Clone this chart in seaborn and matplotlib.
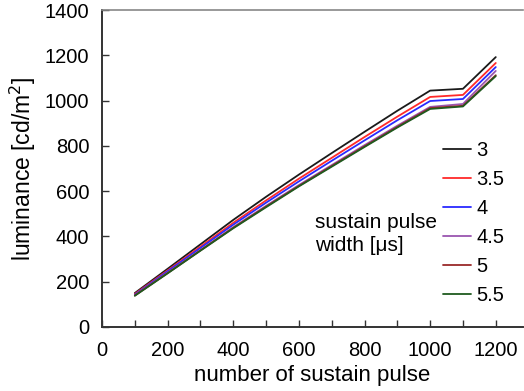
import pandas as pd
import matplotlib.pyplot as plt
import seaborn as sns
from matplotlib.ticker import MultipleLocator

# luminance vs number of sustain pulses, one curve per pulse width
pulses = [100, 200, 300, 400, 500, 600, 700, 800, 900, 1000, 1100, 1200]
widths = ['3', '3.5', '4', '4.5', '5', '5.5']
lum_3 = [150, 257, 365, 473, 575, 673, 768, 862, 955, 1044, 1052, 1192]
lum_35 = [146, 250, 355, 460, 559, 655, 747, 839, 929, 1016, 1025, 1166]
lum_4 = [143, 246, 349, 452, 549, 643, 734, 824, 913, 998, 1007, 1148]
lum_45 = [140, 240, 340, 441, 535, 627, 715, 803, 889, 972, 985, 1131]
lum_5 = [139, 238, 338, 438, 532, 623, 711, 798, 884, 967, 977, 1112]
lum_55 = [138, 237, 337, 436, 529, 621, 708, 795, 881, 963, 974, 1108]

series = [lum_3, lum_35, lum_4, lum_45, lum_5, lum_55]
df = pd.DataFrame({
    'pulses': pulses * len(widths),
    'lum': [v for s in series for v in s],
    'width': [w for w in widths for _ in pulses],
})

colors = {'3': '#1a1a1a', '3.5': '#ff2a2a', '4': '#2a2aff',
          '4.5': '#9a55b0', '5': '#9a2a2a', '5.5': '#1f5a1f'}

sns.set_style('white')
plt.rcParams['font.family'] = ['Liberation Sans', 'DejaVu Sans']
plt.rcParams['text.color'] = 'black'
plt.rcParams['axes.labelcolor'] = 'black'
plt.rcParams['xtick.color'] = 'black'
plt.rcParams['ytick.color'] = 'black'

fig = plt.figure(figsize=(5.24, 3.91), dpi=100)
ax = fig.add_axes([102 / 524, 1 - 327 / 391, 421 / 524, 317 / 391])

sns.lineplot(data=df, x='pulses', y='lum', hue='width', hue_order=widths,
             palette=colors, linewidth=1.3, ax=ax, legend=False)

ax.set_xlim(0, 1283)
ax.set_ylim(0, 1400)
ax.xaxis.set_major_locator(MultipleLocator(200))
ax.xaxis.set_minor_locator(MultipleLocator(100))
ax.yaxis.set_major_locator(MultipleLocator(200))
ax.tick_params(axis='both', which='both', direction='in', length=5,
               width=1, color='#333333', labelsize=14.5,
               bottom=True, left=True, top=False, right=False)
ax.tick_params(axis='x', which='major', pad=10)
ax.tick_params(axis='y', pad=9)

ax.spines['right'].set_visible(False)
ax.spines['top'].set_color('#888888')
ax.spines['top'].set_linewidth(1.2)
for s in ['left', 'bottom']:
    ax.spines[s].set_color('#333333')
    ax.spines[s].set_linewidth(1.4)

ax.set_xlabel('number of sustain pulse', fontsize=16, labelpad=4)
ax.set_ylabel('luminance [cd/m$^2$]', fontsize=16.5, labelpad=5)

handles = [plt.Line2D([], [], color=colors[w], lw=1.3) for w in widths]
ax.legend(handles, widths, loc='upper left', bbox_to_anchor=(443 / 524, 1 - 141 / 391),
          bbox_transform=fig.transFigure, frameon=False, fontsize=14.5,
          handlelength=1.4, handletextpad=0.25, labelspacing=0.5,
          borderpad=0, borderaxespad=0)

fig.text(315 / 524, 1 - 213 / 391, 'sustain pulse\nwidth [\u03bcs]', fontsize=15,
         va='top', ha='left', linespacing=1.25)

fig.savefig('out.png', dpi=100)
